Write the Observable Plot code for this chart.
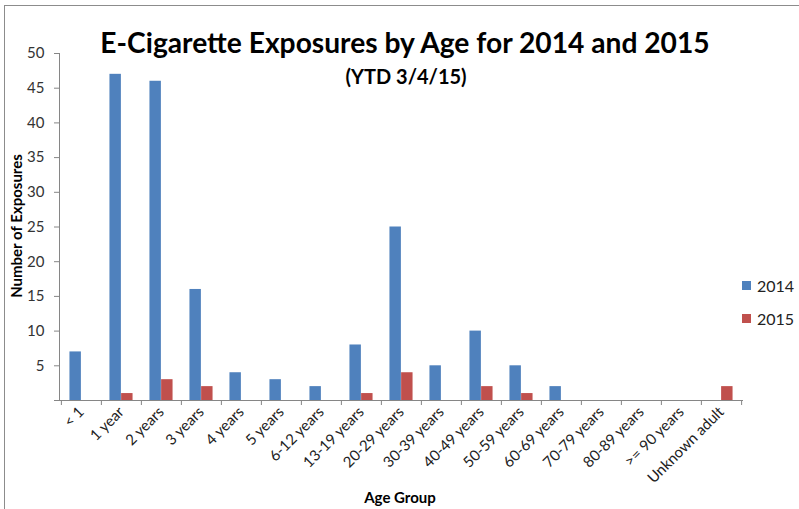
<!DOCTYPE html>
<html>
<head>
<meta charset="utf-8">
<script src="https://cdn.jsdelivr.net/npm/d3@7"></script>
<script src="https://cdn.jsdelivr.net/npm/@observablehq/plot@0.6"></script>
<style>
  html, body { margin: 0; padding: 0; background: #fff; }
  #wrap { position: relative; width: 799px; height: 509px; overflow: hidden; font-family: Lato, "Open Sans", sans-serif; }
  #border { position: absolute; left: 4px; top: 5px; width: 820px; height: 520px; border-left: 1.5px solid #8c8c8c; border-top: 1.5px solid #8c8c8c; box-sizing: border-box; }
  .abs { position: absolute; white-space: nowrap; color: #000; }
  #title { left: 405px; top: 42px; transform: translate(-50%, -50%); font-size: 28.2px; font-weight: bold; }
  #subtitle { left: 406px; top: 76px; transform: translate(-50%, -50%); font-size: 20px; font-weight: bold; }
  #ylab { left: 16px; top: 226px; transform: translate(-50%, -50%) rotate(-90deg); font-size: 15px; font-weight: bold; }
  #xlab { left: 400px; top: 497px; transform: translate(-50%, -50%); font-size: 15px; font-weight: bold; }
  .leg { position: absolute; display: flex; align-items: center; font-size: 16px; color: #222; }
  .sw { width: 9px; height: 9px; margin-right: 6px; }
  #chart svg { position: absolute; left: 0; top: 0; }
</style>
</head>
<body>
<div id="wrap">
  <div id="border"></div>
  <div id="chart"></div>
  <div class="abs" id="title">E-Cigarette Exposures by Age for 2014 and 2015</div>
  <div class="abs" id="subtitle">(YTD 3/4/15)</div>
  <div class="abs" id="ylab">Number of Exposures</div>
  <div class="abs" id="xlab">Age Group</div>
</div>
<script>
const categories = ["< 1", "1 year", "2 years", "3 years", "4 years", "5 years", "6-12 years", "13-19 years", "20-29 years", "30-39 years", "40-49 years", "50-59 years", "60-69 years", "70-79 years", "80-89 years", ">= 90 years", "Unknown adult"];
const series = ["2014", "2015"];
const values2014 = [7, 47, 46, 16, 4, 3, 2, 8, 25, 5, 10, 5, 2, 0, 0, 0, 0];
const values2015 = [0, 1, 3, 2, 0, 0, 0, 1, 4, 0, 2, 1, 0, 0, 0, 0, 2];
const colors = ["#4F81BD", "#C0504D"];
const yTicks = [0, 5, 10, 15, 20, 25, 30, 35, 40, 45, 50];

const W = 799, H = 509;
const mL = 59, mR = 56, mT = 53, mB = 109;
const step = (W - mL - mR) / categories.length;
const barW = 0.29 * step;
const off = (step - 2 * barW) / 2;

const d14 = categories.map((c, i) => ({age: c, value: values2014[i]}));
const d15 = categories.map((c, i) => ({age: c, value: values2015[i]}));

const plot = Plot.plot({
  width: W, height: H,
  marginLeft: mL, marginRight: mR, marginTop: mT, marginBottom: mB,
  style: {fontFamily: "Lato, 'Open Sans', sans-serif", fontSize: "15px", color: "#222", background: "transparent", overflow: "visible"},
  x: {type: "band", domain: categories, padding: 0, axis: null},
  y: {domain: [0, 50], axis: null},
  marks: [
    Plot.barY(d14, {x: "age", y: "value", fill: colors[0], insetLeft: off, insetRight: step - off - barW}),
    Plot.barY(d15, {x: "age", y: "value", fill: colors[1], insetLeft: off + barW, insetRight: off}),
    Plot.ruleY([0], {stroke: "#868686", strokeWidth: 1}),
    Plot.frame({anchor: "left", stroke: "#868686", strokeWidth: 1}),
    Plot.axisY({ticks: yTicks, tickSize: 5, tickPadding: 10, tickFormat: d => d === 0 ? "" : d, stroke: "#868686", fill: "#333", fontSize: 15, label: null}),
    Plot.axisX({tickSize: 5, tickFormat: () => "", dx: -step / 2, stroke: "#868686", label: null}),
    Plot.axisX({ticks: [categories[categories.length - 1]], tickSize: 5, tickFormat: () => "", dx: step / 2, stroke: "#868686", label: null}),
    Plot.axisX({tickSize: 0, tickPadding: 9, tickRotate: -45, fill: "#222", fontSize: 15, label: null})
  ]
});
document.getElementById("chart").appendChild(plot);

const wrap = document.getElementById("wrap");
const legY = [287, 320];
series.forEach((s, i) => {
  const d = document.createElement("div");
  d.className = "leg";
  d.style.left = "742px";
  d.style.top = (legY[i] - 11) + "px";
  d.innerHTML = `<span class="sw" style="background:${colors[i]}"></span><span>${s}</span>`;
  wrap.appendChild(d);
});
</script>
</body>
</html>
